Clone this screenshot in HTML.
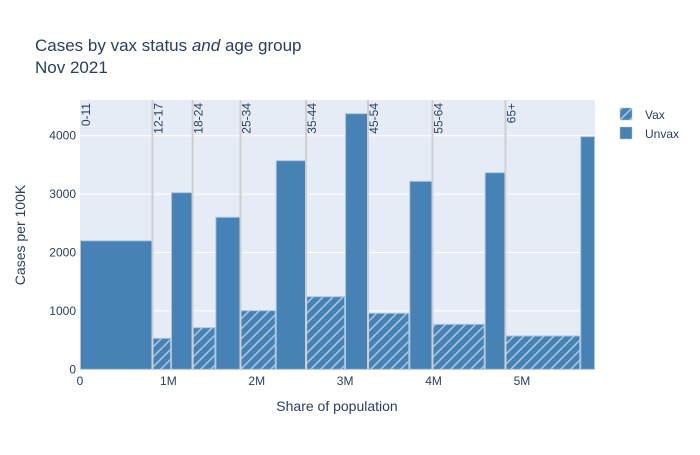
<!DOCTYPE html>
<html><head><meta charset="utf-8"><style>
body{margin:0;background:#fff;font-family:"Liberation Sans","Open Sans",sans-serif;}
svg text{font-family:"Liberation Sans",sans-serif;fill:#2a3f5f;}
</style></head><body>
<svg id="chart" width="700" height="450" xmlns="http://www.w3.org/2000/svg">
<defs>
<pattern id="hatch" patternUnits="userSpaceOnUse" width="10" height="10">
<rect width="10" height="10" fill="#4682b4"/>
<path d="M-2,12 L12,-2 M-2,2 L2,-2 M8,12 L12,8" stroke="#a9c4e0" stroke-width="1.6"/>
</pattern>
</defs>
<rect x="80" y="100" width="515" height="270" fill="#e5ecf6"/>
<g id="grid"></g>
<g id="bars"></g>
<g id="seps"></g>
<g id="xt"></g>
<g id="yt"></g>
<text x="35" y="51" font-size="17">Cases by vax status <tspan font-style="italic">and</tspan> age group</text>
<text x="35" y="73" font-size="17">Nov 2021</text>
<text x="337" y="411" font-size="14" text-anchor="middle">Share of population</text>
<text transform="translate(25,235) rotate(-90)" font-size="14" text-anchor="middle">Cases per 100K</text>
<g>
<rect x="620" y="108" width="12" height="12" fill="url(#hatch)" stroke="#a9c4e0" stroke-width="0.5"/>
<text x="645" y="119" font-size="12">Vax</text></g>
<g>
<rect x="620" y="127" width="12" height="12" fill="#4682b4" stroke="#a9c4e0" stroke-width="0.5"/>
<text x="645" y="138" font-size="12">Unvax</text></g>
</svg>
<script>
const groups=["0-11","12-17","18-24","25-34","35-44","45-54","55-64","65+"];
const vaxPop=[0,0.21,0.258,0.399,0.441,0.467,0.591,0.846];
const unvaxPop=[0.82,0.244,0.284,0.343,0.26,0.262,0.235,0.167];
const vaxRate=[0,530,712,1004,1243,959,770,570];
const unvaxRate=[2200,3024,2603,3572,4377,3219,3366,3983];
const yTicks=[0,1000,2000,3000,4000];
const xTicks=[0,1,2,3,4,5];
const xTickLabels=["0","1M","2M","3M","4M","5M"];
const NS="http://www.w3.org/2000/svg";
const x0=80,x1=595,y0=369.3,yTop=100;
const xMax=vaxPop.reduce((a,b)=>a+b,0)+unvaxPop.reduce((a,b)=>a+b,0);
const X=v=>x0+v/xMax*(x1-x0);
const Y=v=>y0-v/1000*58.4;
function mk(tag,attrs,parent){const e=document.createElementNS(NS,tag);for(const k in attrs)e.setAttribute(k,attrs[k]);document.getElementById(parent).appendChild(e);return e;}
yTicks.forEach(t=>{
 if(t>0){const g=mk('line',{x1:x0,x2:x1,y1:Y(t),y2:Y(t),stroke:'#fff','stroke-width':1},'grid');
 
 }
 const l=mk('text',{x:x0-4,y:Y(t)+4,'font-size':12,'text-anchor':'end'},'yt');l.textContent=t;
 
 
});
xTicks.forEach((t,i)=>{
 const l=mk('text',{x:X(t),y:385,'font-size':12,'text-anchor':'middle'},'xt');l.textContent=xTickLabels[i];
 
 
});
let cum=0;
groups.forEach((g,i)=>{
 const start=cum;
 if(i>0){const s=mk('line',{x1:X(start),x2:X(start),y1:yTop,y2:370,stroke:'#cfcfcf','stroke-width':2},'seps');
 
 }
 const lb=mk('text',{transform:`translate(${X(start)+10},${yTop+3}) rotate(-90)`,'font-size':12,'text-anchor':'end'},'seps');
 lb.textContent=g;
 
 
 if(vaxPop[i]>0){
  const b=mk('rect',{x:X(cum)+0.5,y:Y(vaxRate[i]),width:X(cum+vaxPop[i])-X(cum)-1,height:Y(0)-Y(vaxRate[i]),fill:'url(#hatch)',stroke:'#a9c4e0','stroke-width':1},'bars');
  
  
 }
 cum+=vaxPop[i];
 const u=mk('rect',{x:X(cum)+0.5,y:Y(unvaxRate[i]),width:X(cum+unvaxPop[i])-X(cum)-1,height:Y(0)-Y(unvaxRate[i]),fill:'#4682b4',stroke:'#a9c4e0','stroke-width':1},'bars');
 
 
 cum+=unvaxPop[i];
});
</script>
</body></html>
